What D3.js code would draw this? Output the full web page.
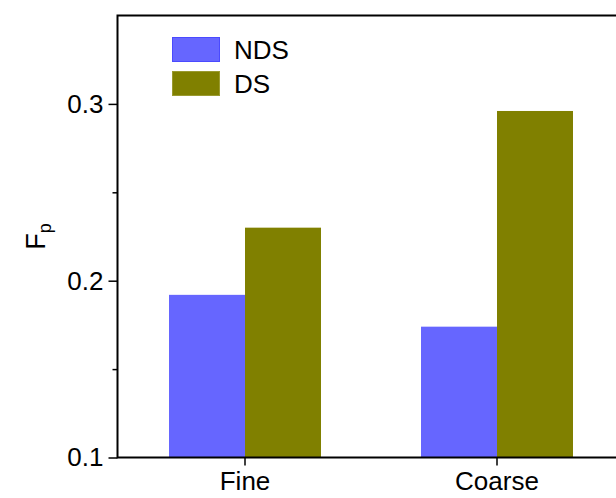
<!DOCTYPE html>
<html>
<head>
<meta charset="utf-8">
<script src="https://cdn.jsdelivr.net/npm/d3@7"></script>
<style>
  html, body { margin: 0; padding: 0; background: #fff; overflow: hidden; }
  svg { display: block; font-family: "Liberation Sans", Arial, sans-serif; }
</style>
</head>
<body>
<svg id="chart" width="616" height="498"></svg>
<script>
// Particle fraction F_p for fine and coarse grains, non-dispersed vs dispersed
const categories = ["Fine", "Coarse"];
const seriesNames = ["NDS", "DS"];
const ndsValues = [0.192, 0.174];
const dsValues = [0.230, 0.296];
const yMajorTicks = [0.1, 0.2, 0.3];
const yMinorTicks = [0.15, 0.25];
const seriesColors = { NDS: "#6666ff", DS: "#808000" };
const seriesStrokes = { NDS: "#4a4aff", DS: "#9a9a30" };

const rows = categories.map((c, i) => ({ cat: c, NDS: ndsValues[i], DS: dsValues[i] }));

const svg = d3.select("#chart");
const plotLeft = 117.5, plotTop = 15.5, plotBottom = 457.5;

const y = d3.scaleLinear().domain([0.1, 0.35]).range([plotBottom, plotTop]);
const x0 = d3.scaleBand().domain(categories).range([119, 623]).padding(0);
const x1 = d3.scaleBand().domain(seriesNames).range([50, 202]).padding(0);

// bars
const groups = svg.append("g").selectAll("g")
  .data(rows).join("g")
  .attr("transform", d => `translate(${x0(d.cat)},0)`);

groups.selectAll("rect")
  .data(d => seriesNames.map(s => ({ s, v: d[s] })))
  .join("rect")
  .attr("x", d => x1(d.s))
  .attr("width", x1.bandwidth())
  .attr("y", d => y(d.v))
  .attr("height", d => y(0.1) - y(d.v))
  .attr("fill", d => seriesColors[d.s]);

// left axis, major ticks
const yAxis = svg.append("g")
  .attr("transform", `translate(${plotLeft},0)`)
  .call(d3.axisLeft(y).tickValues(yMajorTicks).tickFormat(d3.format(".1f"))
    .tickSize(9).tickSizeOuter(0).tickPadding(5));
yAxis.select(".domain").remove();
yAxis.selectAll("line").attr("stroke", "#000").attr("stroke-width", 1.5);
yAxis.selectAll("text").attr("font-size", 26).attr("fill", "#000")
  .attr("font-family", "Liberation Sans, Arial, sans-serif");

// left axis, minor ticks
const yMinor = svg.append("g")
  .attr("transform", `translate(${plotLeft},0)`)
  .call(d3.axisLeft(y).tickValues(yMinorTicks).tickFormat("").tickSize(5).tickSizeOuter(0));
yMinor.select(".domain").remove();
yMinor.selectAll("line").attr("stroke", "#000").attr("stroke-width", 1.5);

// bottom axis
const xAxis = svg.append("g")
  .attr("transform", `translate(0,${plotBottom})`)
  .call(d3.axisBottom(x0).tickSize(8).tickSizeOuter(0).tickPadding(6).offset(0));
xAxis.select(".domain").remove();
xAxis.selectAll("line").attr("stroke", "#000").attr("stroke-width", 1.5);
xAxis.selectAll("text").attr("font-size", 26).attr("fill", "#000")
  .attr("font-family", "Liberation Sans, Arial, sans-serif");

// frame lines
const frameRight = x0.range()[1];
svg.append("path")
  .attr("d", `M${frameRight},${plotTop}H${plotLeft}V${plotBottom}H${frameRight}`)
  .attr("fill", "none").attr("stroke", "#000").attr("stroke-width", 2);

// y-axis title: F with subscript p
const yTitle = svg.append("text")
  .attr("transform", `translate(45,${(plotTop + plotBottom) / 2}) rotate(-90)`)
  .attr("text-anchor", "middle")
  .attr("font-size", 27).attr("fill", "#000");
yTitle.append("tspan").text("F");
yTitle.append("tspan").attr("font-size", 18).attr("dy", 6).text("p");

// legend
const legend = svg.append("g").attr("transform", "translate(172,37)");
const items = legend.selectAll("g").data(seriesNames).join("g")
  .attr("transform", (d, i) => `translate(0,${i * 34})`);
items.append("rect")
  .attr("x", 0.5).attr("y", 0.5).attr("width", 47).attr("height", 24)
  .attr("fill", d => seriesColors[d])
  .attr("stroke", d => seriesStrokes[d]).attr("stroke-width", 1);
items.append("text")
  .attr("x", 62).attr("y", 12.5).attr("dy", "0.35em")
  .attr("font-size", 26).attr("fill", "#000")
  .text(d => d);
</script>
</body>
</html>
